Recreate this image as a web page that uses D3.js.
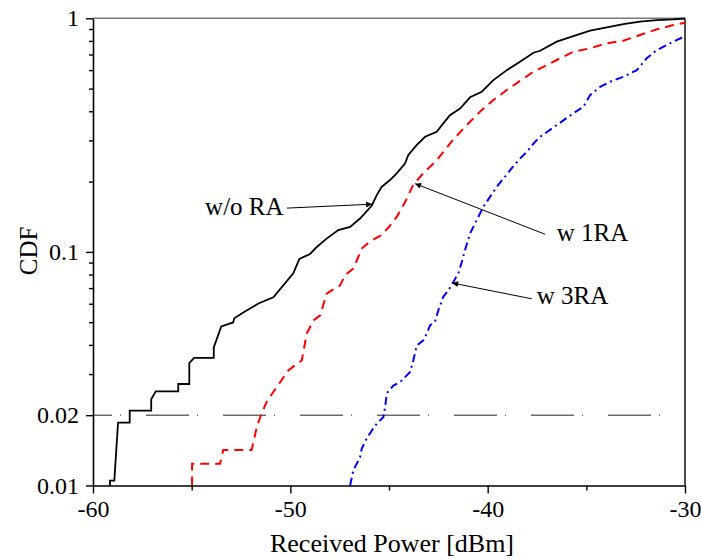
<!DOCTYPE html>
<html>
<head>
<meta charset="utf-8">
<script src="https://cdn.jsdelivr.net/npm/d3@7"></script>
<style>
  body { margin: 0; background: #fff; }
  text { font-family: "Liberation Serif", "Times New Roman", serif; fill: #000; }
</style>
</head>
<body>
<div id="chart"></div>
<script>
// Data (x in dBm, y = CDF)
var noRaX = [-59.14, -59.14, -58.92, -58.73, -58.14, -58.14, -57.05, -57.05, -56.82, -55.68, -55.68, -55.12, -55.12, -54.88,
  -53.88, -53.88, -53.50, -52.90, -52.84, -52.28, -51.59, -50.86, -49.85, -49.54, -49.00, -48.66, -48.16, -47.57, -46.97,
  -46.47, -45.87, -45.62, -45.37, -44.95, -44.61, -44.19, -44.02, -43.59, -43.17, -42.58, -42.25, -41.91, -41.40, -40.89,
  -40.30, -39.71, -39.03, -38.36, -37.68, -37.34, -36.50, -35.66, -34.81, -33.96, -33.12, -32.28, -31.43, -30.59, -30.00];
var noRaY = [0.010, 0.0105, 0.0105, 0.0186, 0.0186, 0.0209, 0.0209, 0.0234, 0.0253, 0.0253, 0.0272, 0.0272, 0.0334, 0.0352,
  0.0352, 0.039, 0.048, 0.0499, 0.052, 0.0557, 0.0603, 0.0639, 0.081, 0.0934, 0.098, 0.105, 0.114, 0.124, 0.128,
  0.139, 0.158, 0.175, 0.190, 0.203, 0.217, 0.239, 0.260, 0.287, 0.311, 0.327, 0.355, 0.385, 0.411, 0.459,
  0.485, 0.544, 0.600, 0.652, 0.712, 0.726, 0.794, 0.839, 0.885, 0.915, 0.945, 0.967, 0.983, 0.990, 0.998];

var oneRaX = [-54.98, -54.98, -53.56, -53.40, -51.96, -51.70, -51.50, -51.20, -50.69, -50.10, -49.76, -49.42, -49.17, -48.83,
  -48.49, -48.16, -47.48, -47.23, -46.81, -46.37, -45.96, -45.45, -45.05, -44.59, -44.19, -43.78, -43.27, -42.58, -41.74,
  -41.06, -40.39, -39.71, -39.03, -38.36, -37.68, -37.00, -36.50, -35.66, -34.81, -33.96, -33.12, -32.28, -31.43, -30.59, -30.00];
var oneRaY = [0.010, 0.0124, 0.0124, 0.0142, 0.0142, 0.0178, 0.0199, 0.0228, 0.0264, 0.0311, 0.0327, 0.0343, 0.0447, 0.0509,
  0.0535, 0.0663, 0.0719, 0.0794, 0.0848, 0.1036, 0.111, 0.117, 0.1265, 0.142, 0.163, 0.193, 0.217, 0.247, 0.303,
  0.349, 0.398, 0.447, 0.493, 0.540, 0.590, 0.631, 0.663, 0.719, 0.744, 0.782, 0.802, 0.848, 0.897, 0.936, 0.957];

var threeRaX = [-46.97, -46.81, -46.47, -46.38, -46.13, -45.87, -45.62, -45.29, -45.20, -45.11, -44.78, -44.44, -43.93, -43.77,
  -43.59, -43.26, -43.09, -42.92, -42.67, -42.50, -42.25, -41.99, -41.74, -41.49, -41.31, -41.15, -40.89, -40.55, -40.22,
  -39.88, -39.54, -39.20, -38.86, -38.44, -38.02, -37.60, -37.34, -36.50, -35.66, -35.15, -34.81, -34.30, -33.80, -33.12,
  -32.44, -31.94, -31.43, -30.59, -30.00];
var threeRaY = [0.010, 0.0116, 0.0132, 0.0144, 0.0159, 0.0172, 0.0184, 0.0196, 0.0216, 0.0248, 0.0268, 0.0277, 0.0306, 0.0343,
  0.0398, 0.0418, 0.0447, 0.0485, 0.0502, 0.0562, 0.0642, 0.0685, 0.0743, 0.0808, 0.0905, 0.1017, 0.120, 0.137, 0.156,
  0.172, 0.190, 0.206, 0.224, 0.247, 0.268, 0.296, 0.311, 0.349, 0.392, 0.418, 0.469, 0.509, 0.535, 0.562,
  0.600, 0.674, 0.731, 0.794, 0.839];

var xMajorTicks = [-60, -50, -40, -30];
var xMinorTicks = [-55, -45, -35];
var yLabelTicks = [0.01, 0.02, 0.1, 1];
var yLabelText = ["0.01", "0.02", "0.1", "1"];
var yMinorTicks = [0.03, 0.04, 0.05, 0.06, 0.07, 0.08, 0.09, 0.2, 0.3, 0.4, 0.5, 0.6, 0.7, 0.8, 0.9];
var refLevel = 0.02;

// annotation labels: text anchor, arrow start, arrow tip (data units)
var labelNames = ["w/o RA", "w 1RA", "w 3RA"];
var labelX = [-54.32, -36.50, -37.51];
var labelY = [0.1435, 0.111, 0.060];
var arrowFromX = [-50.17, -37.09, -37.77];
var arrowFromY = [0.154, 0.119, 0.063];
var arrowToX = [-45.86, -43.68, -41.80];
var arrowToY = [0.160, 0.196, 0.0736];

// Set the dimensions and margins of the chart
var margin = { top: 18.3, right: 16, bottom: 73.5, left: 93 };
var width = 701 - margin.left - margin.right;
var height = 559 - margin.top - margin.bottom;

var svg = d3.select("#chart")
  .append("svg")
  .attr("width", 701)
  .attr("height", 559)
  .append("g")
  .attr("transform", "translate(" + margin.left + "," + margin.top + ")");

svg.append("defs").append("marker")
  .attr("id", "arrow")
  .attr("viewBox", "0 0 10 10")
  .attr("refX", 10)
  .attr("refY", 5)
  .attr("markerWidth", 11)
  .attr("markerHeight", 6)
  .attr("markerUnits", "userSpaceOnUse")
  .attr("orient", "auto")
  .append("path")
  .attr("d", "M0,0L10,5L0,10z")
  .attr("fill", "#000");

var x = d3.scaleLinear().domain([-60, -30]).range([0, width]);
var y = d3.scaleLog().domain([0.01, 1]).range([height, 0]);

// frame: gray top, black right
svg.append("line")
  .attr("x1", 0).attr("x2", width).attr("y1", 0).attr("y2", 0)
  .attr("stroke", "#7a7a7a").attr("stroke-width", 1.6);
svg.append("line")
  .attr("x1", width).attr("x2", width).attr("y1", 0).attr("y2", height)
  .attr("stroke", "#000").attr("stroke-width", 1.4);

// reference line at 0.02
svg.append("line")
  .attr("x1", 0).attr("x2", width)
  .attr("y1", y(refLevel)).attr("y2", y(refLevel))
  .attr("stroke", "#222").attr("stroke-width", 1)
  .attr("stroke-dasharray", "43,8,1,25")
  .attr("stroke-dashoffset", 24);

// curves
function series(xs, ys) {
  return xs.map(function (d, i) { return [d, ys[i]]; });
}
var line = d3.line()
  .x(function (d) { return x(d[0]); })
  .y(function (d) { return y(d[1]); });

svg.append("path").datum(series(oneRaX, oneRaY))
  .attr("fill", "none").attr("stroke", "#ff0000").attr("stroke-width", 2)
  .attr("stroke-dasharray", "9,6").attr("d", line);
svg.append("path").datum(series(threeRaX, threeRaY))
  .attr("fill", "none").attr("stroke", "#0000ff").attr("stroke-width", 2)
  .attr("stroke-dasharray", "8,4,2,4").attr("d", line);
svg.append("path").datum(series(noRaX, noRaY))
  .attr("fill", "none").attr("stroke", "#000").attr("stroke-width", 1.8)
  .attr("d", line);

// X axis
svg.append("g")
  .attr("transform", "translate(0," + height + ")")
  .call(d3.axisBottom(x).tickValues(xMajorTicks).tickSize(8).tickSizeOuter(0).tickPadding(6)
    .tickFormat(function (d) { return d; }));
svg.append("g")
  .attr("transform", "translate(0," + height + ")")
  .call(d3.axisBottom(x).tickValues(xMinorTicks).tickSize(5).tickFormat(""))
  .select(".domain").remove();

// Y axis
svg.append("g")
  .call(d3.axisLeft(y).tickValues(yLabelTicks).tickSize(7).tickSizeOuter(0).tickPadding(7)
    .tickFormat(function (d) { return yLabelText[yLabelTicks.indexOf(d)]; }));
svg.append("g")
  .call(d3.axisLeft(y).tickValues(yMinorTicks).tickSize(4).tickFormat(""))
  .select(".domain").remove();

svg.selectAll(".domain").attr("stroke", "#000").attr("stroke-width", 1.6);
svg.selectAll(".tick line").attr("stroke", "#000").attr("stroke-width", 1.4);
svg.selectAll(".tick text")
  .style("font-family", "'Liberation Serif', 'Times New Roman', serif")
  .style("font-size", "24px")
  .attr("fill", "#000");

// axis labels
svg.append("text")
  .attr("x", width / 2 + 3)
  .attr("y", height + 67)
  .attr("text-anchor", "middle")
  .style("font-size", "26px")
  .text("Received Power [dBm]");
svg.append("text")
  .attr("transform", "rotate(-90)")
  .attr("x", -(y(0.1) - 1))
  .attr("y", -56)
  .attr("text-anchor", "middle")
  .style("font-size", "25px")
  .text("CDF");

// annotations
labelNames.forEach(function (name, i) {
  svg.append("line")
    .attr("x1", x(arrowFromX[i])).attr("y1", y(arrowFromY[i]))
    .attr("x2", x(arrowToX[i])).attr("y2", y(arrowToY[i]))
    .attr("stroke", "#000").attr("stroke-width", 1)
    .attr("marker-end", "url(#arrow)");
  svg.append("text")
    .attr("x", x(labelX[i]))
    .attr("y", y(labelY[i]))
    .style("font-size", "25px")
    .text(name);
});
</script>
</body>
</html>
